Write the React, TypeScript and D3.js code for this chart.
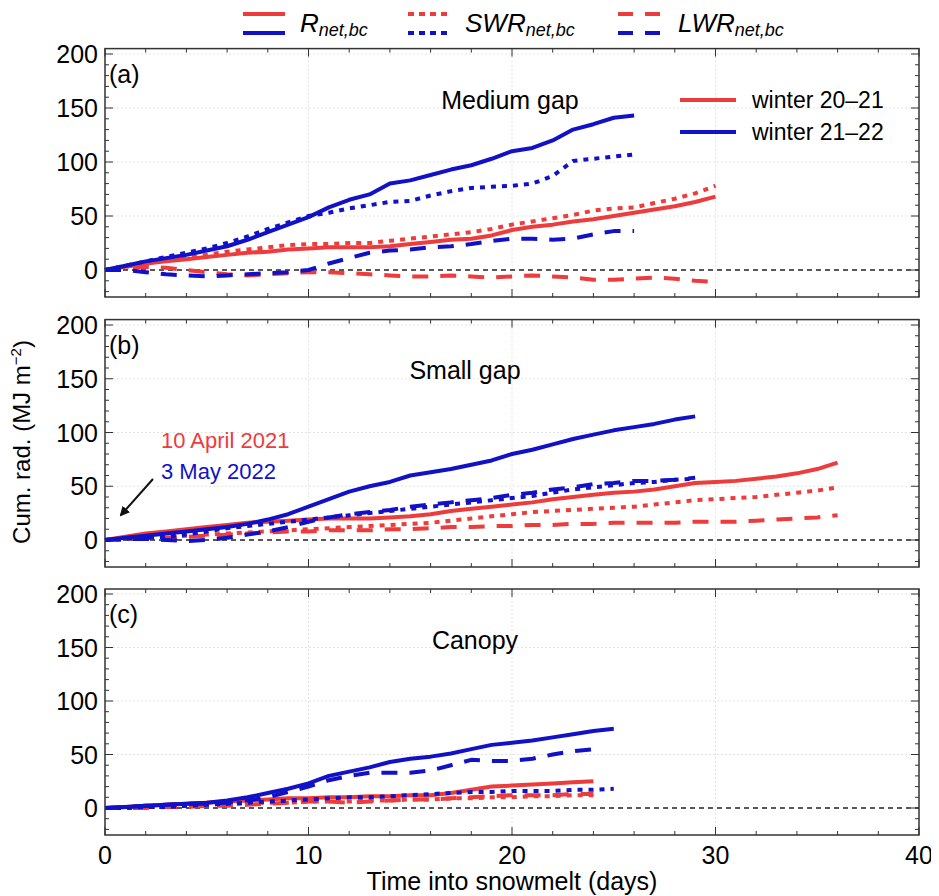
import React, { useEffect, useRef } from 'react';
import * as d3 from 'd3';

// panel (a) medium gap
const aRnet20 = [0,3,6,8,10,12,14,16,17,19,20,21,21,21,22,24,26,28,29,32,37,40,42,45,47,50,53,56,59,63,68];
const aSwr20 = [0,3,6,9,11,14,17,19,21,23,24,24,25,25,27,29,31,33,35,38,42,45,48,51,55,57,58,62,66,71,78];
const aLwr20 = [0,2,3,2,0,-2,-4,-5,-4,-3,-2,-2,-3,-4,-5,-6,-6,-5,-6,-7,-6,-5,-6,-7,-9,-9,-8,-7,-8,-10,-11];
const aRnet21 = [0,4,8,11,14,18,22,28,35,42,49,58,65,70,80,83,88,93,97,103,110,113,120,130,135,141,143];
const aSwr21 = [0,4,8,12,16,20,25,31,38,44,50,53,57,60,63,64,69,73,76,77,78,80,87,101,103,105,107];
const aLwr21 = [0,0,-2,-4,-5,-6,-5,-4,-3,-2,0,6,11,16,18,19,21,22,24,27,29,29,28,29,33,36,36];
// panel (b) small gap
const bRnet20 = [0,3,6,8,10,12,14,16,17,18,19,20,20,20,21,22,24,27,29,31,33,35,38,40,42,44,45,47,50,53,54,55,57,59,62,66,72];
const bSwr20 = [0,1,2,3,4,5,6,7,8,9,10,11,12,13,14,15,16,18,20,22,24,26,27,28,29,30,31,33,35,37,38,39,40,42,44,46,49];
const bLwr20 = [0,1,1,2,3,4,5,6,7,8,8,9,9,9,10,10,11,12,12,13,13,14,14,15,15,16,16,16,16,17,17,17,18,19,20,21,23];
const bRnet21 = [0,2,4,6,8,10,12,15,19,24,31,38,45,50,54,60,63,66,70,74,80,84,89,94,98,102,105,108,112,115];
const bSwr21 = [0,1,2,3,5,8,11,13,15,17,19,21,23,25,27,29,31,33,35,37,39,41,44,47,49,51,53,54,56,57];
const bLwr21 = [0,1,1,0,-1,0,2,5,8,12,17,21,24,26,28,31,33,35,37,39,42,44,47,49,52,53,55,55,56,58];
// panel (c) canopy
const cRnet20 = [0,1,2,3,4,5,6,7,8,9,9,10,10,11,11,12,12,14,17,20,21,22,23,24,25];
const cSwr20 = [0,0,1,1,2,3,4,4,5,5,6,6,6,7,7,8,8,9,9,10,10,11,11,12,12];
const cLwr20 = [0,0,0,1,1,2,2,3,4,5,6,6,5,6,7,8,8,9,10,11,12,12,12,13,13];
const cRnet21 = [0,1,2,3,4,5,7,10,14,18,23,30,34,38,43,46,48,51,55,59,61,63,66,69,72,74];
const cSwr21 = [0,0,1,1,2,3,4,5,6,7,8,9,10,10,11,12,13,14,15,15,16,16,16,17,17,18];
const cLwr21 = [0,1,2,3,4,4,5,7,10,15,20,26,30,33,33,33,35,40,45,44,44,46,50,53,55];

const panelLetters = ['(a)', '(b)', '(c)'];
const panelTitles = ['Medium gap', 'Small gap', 'Canopy'];
const xTicks = [0, 10, 20, 30, 40];
const yTicks = [0, 50, 100, 150, 200];

const RED = '#ee3b3b';
const BLUE = '#1111c8';
const DASH: Record<string, string | null> = { R: null, SWR: '5,6', LWR: '16,12' };

const App: React.FC = () => {
  const ref = useRef<SVGSVGElement>(null);

  useEffect(() => {
    const svg = d3.select(ref.current);
    svg.selectAll('*').remove();
    const font = 'Liberation Sans, Arial, sans-serif';

    const x = d3.scaleLinear().domain([0, 40]).range([105, 919]);
    const panels = [
      { top: 48.6, bottom: 297, y0: 270, y200: 54, series: [[aRnet20, aSwr20, aLwr20], [aRnet21, aSwr21, aLwr21]], tx: 510, ty: 100 },
      { top: 319.6, bottom: 567, y0: 540, y200: 325, series: [[bRnet20, bSwr20, bLwr20], [bRnet21, bSwr21, bLwr21]], tx: 465, ty: 370 },
      { top: 589, bottom: 835, y0: 808, y200: 594, series: [[cRnet20, cSwr20, cLwr20], [cRnet21, cSwr21, cLwr21]], tx: 475, ty: 640 },
    ];
    const kinds = ['R', 'SWR', 'LWR'];

    panels.forEach((p, pi) => {
      const y = d3.scaleLinear().domain([0, 200]).range([p.y0, p.y200]);
      const g = svg.append('g');
      // grid
      xTicks.slice(1, -1).forEach(t => g.append('line').attr('x1', x(t)).attr('x2', x(t)).attr('y1', p.top).attr('y2', p.bottom)
        .attr('stroke', '#ddd').attr('stroke-width', 0.8).attr('stroke-dasharray', '2,2'));
      yTicks.slice(1).forEach(t => g.append('line').attr('x1', 105).attr('x2', 919).attr('y1', y(t)).attr('y2', y(t))
        .attr('stroke', '#ddd').attr('stroke-width', 0.8).attr('stroke-dasharray', '2,2'));
      // zero line
      g.append('line').attr('x1', 105).attr('x2', 919).attr('y1', y(0)).attr('y2', y(0))
        .attr('stroke', '#222').attr('stroke-width', 1.5).attr('stroke-dasharray', '5,4');

      // minor/major ticks
      d3.range(0, 41, 2).forEach(t => {
        const len = t % 10 === 0 ? 8 : 4;
        g.append('line').attr('x1', x(t)).attr('x2', x(t)).attr('y1', p.bottom).attr('y2', p.bottom - len).attr('stroke', '#333');
        g.append('line').attr('x1', x(t)).attr('x2', x(t)).attr('y1', p.top).attr('y2', p.top + len).attr('stroke', '#333');
      });
      d3.range(-20, 201, 10).forEach(t => {
        const len = t % 50 === 0 ? 8 : 4;
        g.append('line').attr('x1', 105).attr('x2', 105 + len).attr('y1', y(t)).attr('y2', y(t)).attr('stroke', '#333');
        g.append('line').attr('x1', 919).attr('x2', 919 - len).attr('y1', y(t)).attr('y2', y(t)).attr('stroke', '#333');
      });
      yTicks.forEach(t => g.append('text').attr('x', 98).attr('y', y(t) + 9).attr('text-anchor', 'end')
        .attr('font-family', font).attr('font-size', 25).text(t));

      const line = d3.line<number>().x((_, i) => x(i)).y(d => y(d));
      p.series.forEach((set, si) => {
        set.forEach((vals, ki) => {
          const path = g.append('path').datum(vals).attr('d', line).attr('fill', 'none')
            .attr('stroke', si === 0 ? RED : BLUE).attr('stroke-width', 4).attr('stroke-linejoin', 'round');
          const da = DASH[kinds[ki]];
          if (da) path.attr('stroke-dasharray', da);
        });
      });

      g.append('rect').attr('x', 105).attr('y', p.top).attr('width', 814).attr('height', p.bottom - p.top)
        .attr('fill', 'none').attr('stroke', '#333').attr('stroke-width', 1.5);
      g.append('text').attr('x', 109).attr('y', p.top + 34).attr('font-family', font).attr('font-size', 25).text(panelLetters[pi]);
      g.append('text').attr('x', p.tx).attr('y', p.ty + 9).attr('text-anchor', 'middle')
        .attr('font-family', font).attr('font-size', 25).text(panelTitles[pi]);
    });

    // x tick labels
    xTicks.forEach(t => svg.append('text').attr('x', x(t)).attr('y', 864).attr('text-anchor', 'middle')
      .attr('font-family', font).attr('font-size', 25).text(t));
    svg.append('text').attr('x', 512).attr('y', 890).attr('text-anchor', 'middle')
      .attr('font-family', font).attr('font-size', 25).text('Time into snowmelt (days)');
    const yl = svg.append('text').attr('transform', 'translate(30,442) rotate(-90)').attr('text-anchor', 'middle')
      .attr('font-family', font).attr('font-size', 24);
    yl.append('tspan').text('Cum. rad. (MJ m');
    yl.append('tspan').attr('dy', -9).attr('font-size', 15).text('−2');
    yl.append('tspan').attr('dy', 9).text(')');

    // top legend
    const legs = [
      { k: 'R', x0: 243, tx: 300, lab: 'R' },
      { k: 'SWR', x0: 408, tx: 465, lab: 'SWR' },
      { k: 'LWR', x0: 618, tx: 678, lab: 'LWR' },
    ];
    legs.forEach(l => {
      [[RED, 14], [BLUE, 33]].forEach(([c, yy]) => {
        const ln = svg.append('line').attr('x1', l.x0).attr('x2', l.x0 + 42).attr('y1', yy).attr('y2', yy)
          .attr('stroke', c as string).attr('stroke-width', 4);
        const da = DASH[l.k];
        if (da) ln.attr('stroke-dasharray', l.k === 'LWR' ? '15,12' : '6,5');
      });
      const t = svg.append('text').attr('x', l.tx).attr('y', 32).attr('font-family', font).attr('font-style', 'italic').attr('font-size', 26);
      t.append('tspan').text(l.lab);
      t.append('tspan').attr('dy', 4).attr('font-size', 18).text('net,bc');
    });

    // winter legend in (a)
    [[RED, 'winter 20–21', 100], [BLUE, 'winter 21–22', 132]].forEach(([c, lab, yy]) => {
      svg.append('line').attr('x1', 680).attr('x2', 736).attr('y1', yy).attr('y2', yy).attr('stroke', c as string).attr('stroke-width', 4);
      svg.append('text').attr('x', 752).attr('y', (yy as number) + 8).attr('font-family', font).attr('font-size', 23).text(lab as string);
    });

    // annotation in (b)
    svg.append('text').attr('x', 161).attr('y', 448).attr('font-family', font).attr('font-size', 22).attr('fill', RED).text('10 April 2021');
    svg.append('text').attr('x', 161).attr('y', 479).attr('font-family', font).attr('font-size', 22).attr('fill', BLUE).text('3 May 2022');
    svg.append('defs').append('marker').attr('id', 'arr').attr('viewBox', '0 0 10 10').attr('refX', 8).attr('refY', 5)
      .attr('markerWidth', 5).attr('markerHeight', 5).attr('orient', 'auto')
      .append('path').attr('d', 'M0,0L10,5L0,10z').attr('fill', '#111');
    svg.append('line').attr('x1', 153).attr('y1', 479).attr('x2', 121).attr('y2', 515)
      .attr('stroke', '#111').attr('stroke-width', 2).attr('marker-end', 'url(#arr)');
  }, []);

  return <svg ref={ref} width={939} height={896} style={{ display: 'block', margin: '-8px 0 0 -8px' }} />;
};

export default App;
